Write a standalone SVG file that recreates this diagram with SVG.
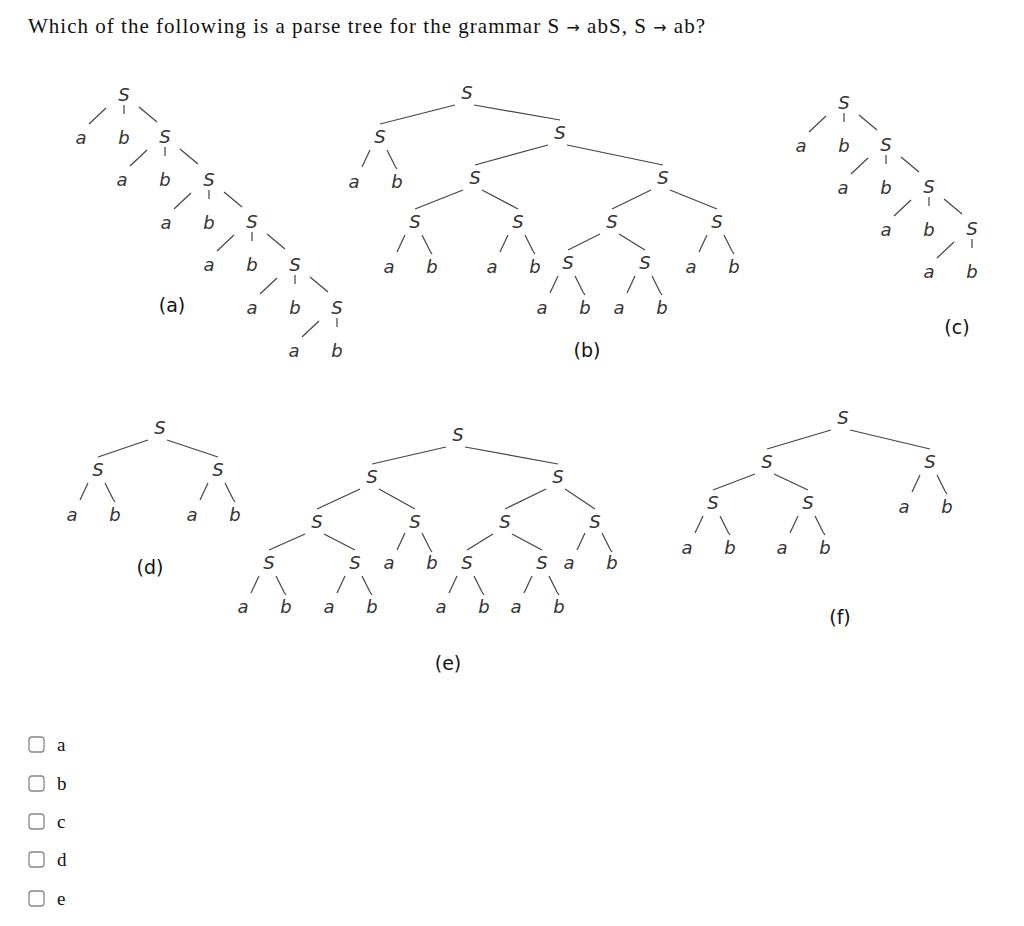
<svg xmlns="http://www.w3.org/2000/svg" xmlns:xlink="http://www.w3.org/1999/xlink" width="1024" height="926" viewBox="0 0 1024 926">
<style>
.t{font-family:"DejaVu Sans",sans-serif;font-style:italic;font-size:18px;fill:#333;text-anchor:middle}
.lab{font-family:"DejaVu Sans",sans-serif;font-size:19px;fill:#111;text-anchor:middle}
.q{font-family:"Liberation Serif",serif;font-size:19px;fill:#111}
.e line{stroke:#444;stroke-width:1.2}
.cb{fill:#fff;stroke:#888;stroke-width:1.3}
</style>
<defs>
<g id="tern" stroke="#444" stroke-width="1.2"><line x1="-18" y1="13" x2="-35" y2="29"/><line x1="0" y1="10" x2="0" y2="19"/><line x1="15" y1="12" x2="33" y2="27"/></g>
<g id="last" stroke="#444" stroke-width="1.2"><line x1="-18" y1="13" x2="-35" y2="29"/><line x1="0" y1="10" x2="0" y2="19"/></g>
<g id="bin" stroke="#444" stroke-width="1.2" fill="none"><line x1="-10" y1="13" x2="-18" y2="30"/><polyline points="7,13 15,29 17,32"/></g>
</defs>
<rect width="1024" height="926" fill="#fff"/>
<text class="q" x="28" y="33" font-size="21" textLength="677" lengthAdjust="spacing" style="font-size:21px">Which of the following is a parse tree for the grammar S <tspan font-family="DejaVu Sans" font-size="16">→</tspan> abS, S <tspan font-family="DejaVu Sans" font-size="16">→</tspan> ab?</text>

<g id="connectors" class="e">
<use href="#tern" x="124" y="95"/><use href="#tern" x="165" y="137"/><use href="#tern" x="209" y="180"/><use href="#tern" x="252" y="222"/><use href="#tern" x="295" y="265"/><use href="#last" x="337" y="308"/>
<use href="#tern" x="844" y="103"/><use href="#tern" x="886" y="145"/><use href="#tern" x="929" y="187"/><use href="#last" x="972" y="229"/>
<line x1="455" y1="105" x2="380" y2="124"/><line x1="474" y1="105" x2="560" y2="120"/>
<line x1="548" y1="145" x2="475" y2="165"/><line x1="567" y1="145" x2="663" y2="165"/>
<line x1="463" y1="190" x2="415" y2="209"/><line x1="482" y1="190" x2="518" y2="209"/>
<line x1="651" y1="190" x2="612" y2="209"/><line x1="670" y1="190" x2="717" y2="209"/>
<line x1="600" y1="234" x2="568" y2="250"/><line x1="619" y1="234" x2="645" y2="250"/>
<use href="#bin" x="380" y="137"/><use href="#bin" x="415" y="222"/><use href="#bin" x="518" y="222"/><use href="#bin" x="717" y="222"/><use href="#bin" x="568" y="263"/><use href="#bin" x="645" y="263"/>
<line x1="148" y1="440" x2="98" y2="457"/><line x1="167" y1="440" x2="218" y2="457"/>
<use href="#bin" x="98" y="470"/><use href="#bin" x="218" y="470"/>
<line x1="446" y1="447" x2="372" y2="464"/><line x1="465" y1="447" x2="558" y2="464"/>
<line x1="360" y1="489" x2="317" y2="509"/><line x1="379" y1="489" x2="415" y2="509"/>
<line x1="546" y1="489" x2="505" y2="509"/><line x1="565" y1="489" x2="595" y2="509"/>
<line x1="305" y1="534" x2="269" y2="550"/><line x1="324" y1="534" x2="355" y2="550"/>
<line x1="493" y1="534" x2="467" y2="550"/><line x1="512" y1="534" x2="542" y2="550"/>
<use href="#bin" x="415" y="520"/><use href="#bin" x="595" y="520"/><use href="#bin" x="269" y="563"/><use href="#bin" x="355" y="563"/><use href="#bin" x="467" y="563"/><use href="#bin" x="542" y="563"/>
<line x1="831" y1="430" x2="767" y2="449"/><line x1="850" y1="430" x2="930" y2="449"/>
<line x1="755" y1="474" x2="713" y2="490"/><line x1="774" y1="474" x2="808" y2="490"/>
<use href="#bin" x="930" y="462"/><use href="#bin" x="713" y="503"/><use href="#bin" x="808" y="503"/>
</g>

<g id="tree-a" class="t">
<text x="124" y="101">S</text><text x="165" y="143">S</text><text x="209" y="186">S</text><text x="252" y="228">S</text><text x="295" y="271">S</text><text x="337" y="314">S</text>
<text x="81" y="144">a</text><text x="124" y="144">b</text><text x="122" y="186">a</text><text x="165" y="186">b</text><text x="166" y="229">a</text><text x="209" y="229">b</text><text x="209" y="271">a</text><text x="252" y="271">b</text><text x="252" y="314">a</text><text x="295" y="314">b</text><text x="294" y="357">a</text><text x="337" y="357">b</text>
</g>
<g id="tree-c" class="t">
<text x="844" y="109">S</text><text x="886" y="151">S</text><text x="929" y="193">S</text><text x="972" y="235">S</text>
<text x="801" y="152">a</text><text x="844" y="152">b</text><text x="843" y="194">a</text><text x="886" y="194">b</text><text x="886" y="236">a</text><text x="929" y="236">b</text><text x="929" y="278">a</text><text x="972" y="278">b</text>
</g>
<g id="tree-b" class="t">
<text x="467" y="99">S</text><text x="380" y="143">S</text><text x="560" y="139">S</text><text x="475" y="184">S</text><text x="663" y="184">S</text><text x="415" y="228">S</text><text x="518" y="228">S</text><text x="612" y="228">S</text><text x="717" y="228">S</text><text x="568" y="269">S</text><text x="645" y="269">S</text>
<text x="354" y="188">a</text><text x="397" y="188">b</text><text x="389" y="273">a</text><text x="432" y="273">b</text><text x="492" y="273">a</text><text x="535" y="273">b</text><text x="691" y="273">a</text><text x="734" y="273">b</text><text x="542" y="314">a</text><text x="585" y="314">b</text><text x="619" y="314">a</text><text x="662" y="314">b</text>
</g>
<g id="tree-d" class="t">
<text x="160" y="434">S</text><text x="98" y="476">S</text><text x="218" y="476">S</text>
<text x="72" y="521">a</text><text x="115" y="521">b</text><text x="192" y="521">a</text><text x="235" y="521">b</text>
</g>
<g id="tree-e" class="t">
<text x="458" y="441">S</text><text x="372" y="483">S</text><text x="558" y="483">S</text><text x="317" y="528">S</text><text x="415" y="528">S</text><text x="505" y="528">S</text><text x="595" y="528">S</text><text x="269" y="569">S</text><text x="355" y="569">S</text><text x="467" y="569">S</text><text x="542" y="569">S</text>
<text x="389" y="569">a</text><text x="432" y="569">b</text><text x="569" y="569">a</text><text x="612" y="569">b</text>
<text x="243" y="613">a</text><text x="286" y="613">b</text><text x="329" y="613">a</text><text x="372" y="613">b</text><text x="441" y="613">a</text><text x="484" y="613">b</text><text x="516" y="613">a</text><text x="559" y="613">b</text>
</g>
<g id="tree-f" class="t">
<text x="843" y="424">S</text><text x="767" y="468">S</text><text x="930" y="468">S</text><text x="713" y="509">S</text><text x="808" y="509">S</text>
<text x="904" y="513">a</text><text x="947" y="513">b</text><text x="687" y="554">a</text><text x="730" y="554">b</text><text x="782" y="554">a</text><text x="825" y="554">b</text>
</g>
<g id="labels" class="lab">
<text x="172" y="312">(a)</text><text x="587" y="357">(b)</text><text x="957" y="334">(c)</text><text x="150" y="574">(d)</text><text x="448" y="670">(e)</text><text x="840" y="624">(f)</text>
</g>
<g id="options">
<rect class="cb" x="29" y="737" width="15" height="15" rx="3"/><text class="q" x="57" y="751">a</text>
<rect class="cb" x="29" y="776" width="15" height="15" rx="3"/><text class="q" x="57" y="790">b</text>
<rect class="cb" x="29" y="814" width="15" height="15" rx="3"/><text class="q" x="57" y="828">c</text>
<rect class="cb" x="29" y="852" width="15" height="15" rx="3"/><text class="q" x="57" y="866">d</text>
<rect class="cb" x="29" y="891" width="15" height="15" rx="3"/><text class="q" x="57" y="905">e</text>
</g>
</svg>
